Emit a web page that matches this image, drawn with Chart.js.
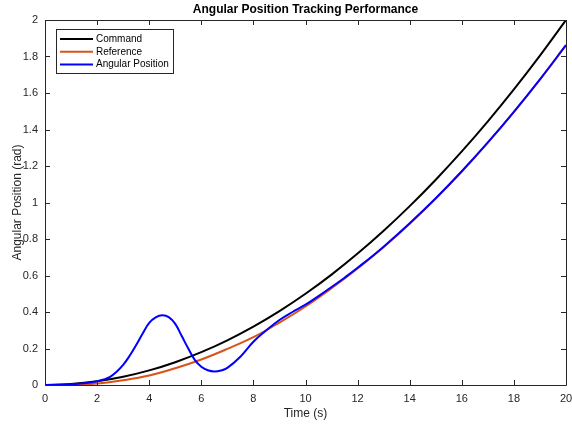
<!DOCTYPE html>
<html>
<head>
<meta charset="utf-8">
<script src="https://cdn.jsdelivr.net/npm/chart.js@4.4.1/dist/chart.umd.min.js"></script>
<style>
  html, body { margin: 0; padding: 0; background: #fff; }
  #wrap { width: 572px; height: 425px; }
</style>
</head>
<body>
<div id="wrap"><canvas id="chart" width="572" height="425"></canvas></div>
<script>
// time samples (s)
var tRef = [0, 1, 2, 3, 4, 5, 6, 7, 8, 9, 10, 11, 12, 13, 14, 15, 16, 17, 18, 19, 20];
var command = [0, 0.005, 0.02, 0.045, 0.08, 0.125, 0.18, 0.245, 0.32, 0.405, 0.5, 0.605, 0.72, 0.845, 0.98, 1.125, 1.28, 1.445, 1.62, 1.805, 2.0];
var reference = [0, 0.0005, 0.008, 0.026, 0.052, 0.092, 0.14, 0.198, 0.262, 0.342, 0.43, 0.53, 0.638, 0.756, 0.884, 1.022, 1.17, 1.328, 1.496, 1.674, 1.862];

var tPos = [0, 0.5, 1, 1.5, 2, 2.25, 2.5, 2.75, 3, 3.25, 3.5, 3.75, 4, 4.25, 4.5, 4.75, 5, 5.25, 5.5, 5.75, 6, 6.25, 6.5, 6.75, 7, 7.5, 8, 8.5, 9, 9.5, 10, 10.5, 11, 11.5, 12, 13, 14, 15, 16, 17, 18, 19, 20];
var angularPos = [0, 0.001, 0.004, 0.009, 0.02, 0.03, 0.045, 0.073, 0.11, 0.16, 0.219, 0.282, 0.34, 0.37, 0.382, 0.372, 0.335, 0.268, 0.2, 0.138, 0.1, 0.081, 0.074, 0.079, 0.094, 0.155, 0.237, 0.3, 0.356, 0.4, 0.44, 0.487, 0.537, 0.588, 0.642, 0.758, 0.886, 1.023, 1.171, 1.329, 1.497, 1.675, 1.862];

var seriesNames = ["Command", "Reference", "Angular Position"];
var seriesColors = ["#000000", "#D95319", "#0000FF"];

var xTicks = [0, 2, 4, 6, 8, 10, 12, 14, 16, 18, 20];
var yTicks = [0, 0.2, 0.4, 0.6, 0.8, 1, 1.2, 1.4, 1.6, 1.8, 2];

var titleText = 'Angular Position Tracking Performance';

var FONT = "'Liberation Sans', Arial, Helvetica, sans-serif";
var AXIS_COLOR = "#262626";

function pts(xs, ys) {
    return xs.map(function(x, i) { return { x: x, y: ys[i] }; });
}

// box round the axes with inward ticks, the title over the axes and the legend
var matlabAxes = {
    id: 'matlabAxes',
    afterDatasetsDraw: function(chart) {
        var ctx = chart.ctx;
        var a = chart.chartArea;
        var xs = chart.scales.x, ys = chart.scales.y;
        ctx.save();
        ctx.strokeStyle = AXIS_COLOR;
        ctx.lineWidth = 1;
        ctx.beginPath();
        ctx.rect(Math.round(a.left) + 0.5, Math.round(a.top) + 0.5,
                 Math.round(a.right - a.left), Math.round(a.bottom - a.top));
        ctx.stroke();

        var tl = 5;
        ctx.beginPath();
        xTicks.forEach(function(v) {
            var px = Math.round(xs.getPixelForValue(v)) + 0.5;
            ctx.moveTo(px, a.bottom); ctx.lineTo(px, a.bottom - tl);
            ctx.moveTo(px, a.top); ctx.lineTo(px, a.top + tl);
        });
        yTicks.forEach(function(v) {
            var py = Math.round(ys.getPixelForValue(v)) + 0.5;
            ctx.moveTo(a.left, py); ctx.lineTo(a.left + tl, py);
            ctx.moveTo(a.right, py); ctx.lineTo(a.right - tl, py);
        });
        ctx.stroke();

        // title, centred on the axes
        ctx.fillStyle = '#000';
        ctx.font = 'bold 12px ' + FONT;
        ctx.textAlign = 'center';
        ctx.textBaseline = 'middle';
        ctx.fillText(titleText, (a.left + a.right) / 2, a.top - 10);

        // legend
        var lx = a.left + 11, ly = a.top + 9, lw = 117, lh = 44;
        ctx.fillStyle = '#fff';
        ctx.fillRect(lx, ly, lw, lh);
        ctx.strokeStyle = AXIS_COLOR;
        ctx.lineWidth = 1;
        ctx.strokeRect(lx + 0.5, ly + 0.5, lw, lh);
        ctx.font = '10px ' + FONT;
        ctx.textBaseline = 'middle';
        ctx.textAlign = 'left';
        seriesNames.forEach(function(name, i) {
            var yy = ly + 10 + i * 12.8;
            ctx.strokeStyle = seriesColors[i];
            ctx.lineWidth = 2;
            ctx.beginPath();
            ctx.moveTo(lx + 4, yy); ctx.lineTo(lx + 37, yy);
            ctx.stroke();
            ctx.fillStyle = '#000';
            ctx.fillText(name, lx + 40, yy);
        });
        ctx.restore();
    }
};

function lineDs(i, data, order) {
    return {
        label: seriesNames[i],
        data: data,
        borderColor: seriesColors[i],
        backgroundColor: seriesColors[i],
        borderWidth: 2,
        pointRadius: 0,
        fill: false,
        tension: 0.4,
        order: order
    };
}

var ctx = document.getElementById('chart').getContext('2d');
var chart = new Chart(ctx, {
    type: 'line',
    data: {
        datasets: [
            lineDs(0, pts(tRef, command), 3),
            lineDs(1, pts(tRef, reference), 2),
            lineDs(2, pts(tPos, angularPos), 1)
        ]
    },
    options: {
        responsive: false,
        animation: false,
        layout: { padding: { left: 0, right: 6, top: 20, bottom: 0 } },
        plugins: {
            legend: { display: false },
            tooltip: { enabled: false },
            title: { display: false }
        },
        scales: {
            x: {
                type: 'linear',
                min: 0, max: 20,
                afterBuildTicks: function(s) { s.ticks = xTicks.map(function(v) { return { value: v }; }); },
                afterFit: function(s) { s.height = 40; s.paddingLeft = 0; s.paddingRight = 0; },
                grid: { display: false, drawTicks: false },
                border: { display: false },
                ticks: { color: AXIS_COLOR, font: { family: FONT, size: 11 }, padding: 7, maxRotation: 0,
                         callback: function(v) { return String(Math.round(v * 10) / 10); } },
                title: { display: true, text: 'Time (s)', color: AXIS_COLOR, font: { family: FONT, size: 12 }, padding: { top: 0, bottom: 4 } }
            },
            y: {
                type: 'linear',
                min: 0, max: 2,
                afterBuildTicks: function(s) { s.ticks = yTicks.map(function(v) { return { value: v }; }); },
                afterFit: function(s) { s.width = 45; s.paddingTop = 0; s.paddingBottom = 0; },
                grid: { display: false, drawTicks: false },
                border: { display: false },
                ticks: { color: AXIS_COLOR, font: { family: FONT, size: 11 }, padding: 7,
                         callback: function(v) { return String(Math.round(v * 10) / 10); } },
                title: { display: true, text: 'Angular Position (rad)', color: AXIS_COLOR, font: { family: FONT, size: 12 }, padding: { top: 10, bottom: 0 } }
            }
        }
    },
    plugins: [matlabAxes]
});
</script>
</body>
</html>
